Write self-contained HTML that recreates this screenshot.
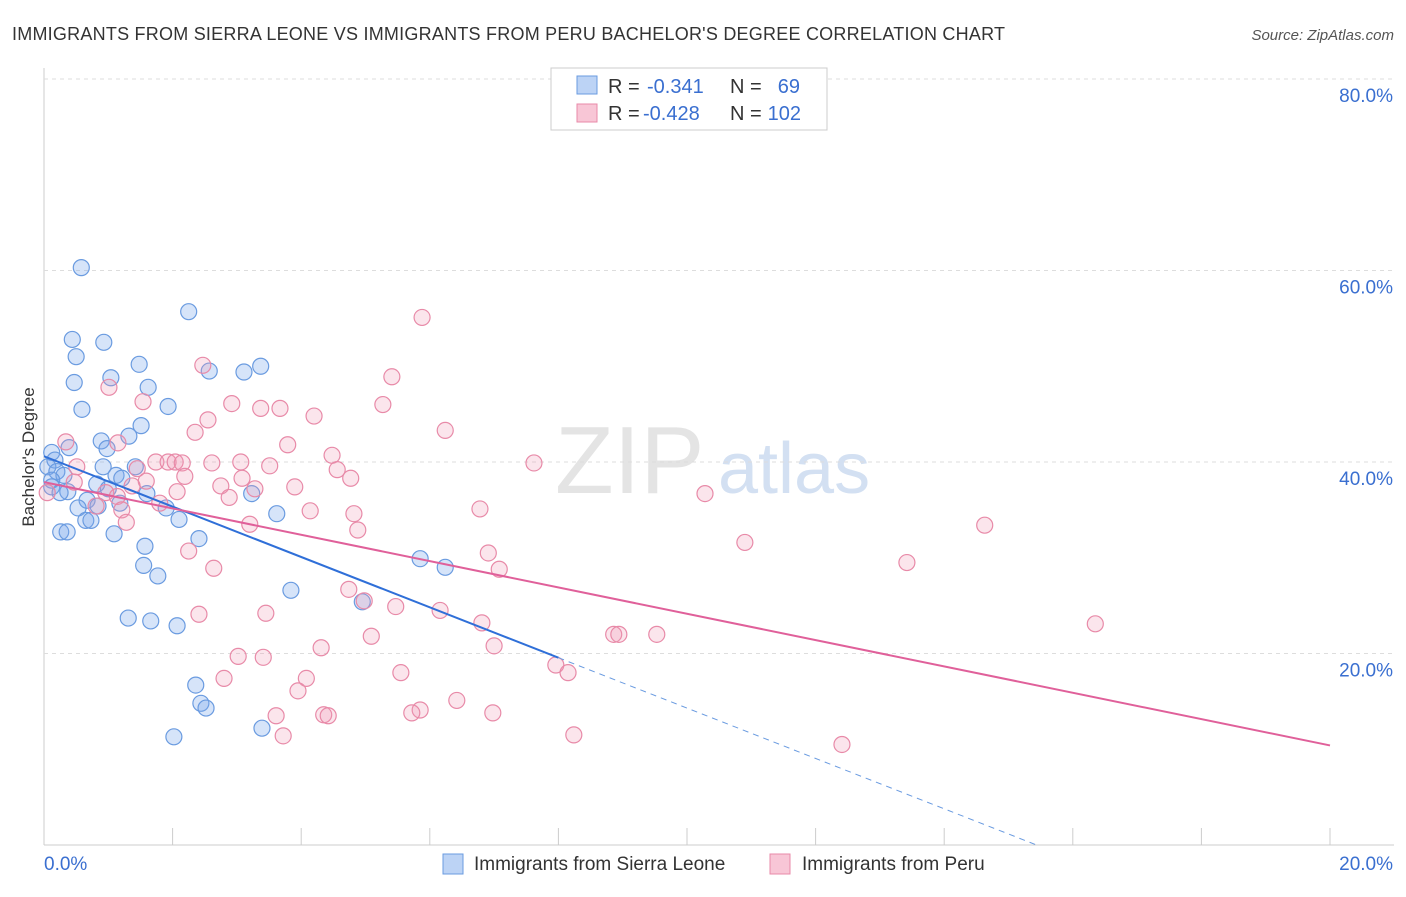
<!DOCTYPE html>
<html><head><meta charset="utf-8"><style>
body{margin:0;background:#fff;font-family:"Liberation Sans",sans-serif;}
svg text{font-family:"Liberation Sans",sans-serif;}
</style></head><body>
<svg id="c" width="1406" height="892">
<text x="12" y="40" font-size="18" fill="#333" textLength="993">IMMIGRANTS FROM SIERRA LEONE VS IMMIGRANTS FROM PERU BACHELOR'S DEGREE CORRELATION CHART</text>
<text x="1394" y="40" font-size="15" fill="#555" font-style="italic" text-anchor="end">Source: ZipAtlas.com</text>
<text x="34" y="457" font-size="17" fill="#333" text-anchor="middle" transform="rotate(-90 34 457)">Bachelor's Degree</text>
<text x="555" y="493" font-size="96" fill="#e4e4e4" font-family="Liberation Serif">ZIP</text>
<text x="718" y="493" font-size="72" fill="#d3e0f2">atlas</text>
<g id="grid"></g><g id="pts"></g><g id="lines"></g>
<g>
<rect x="551" y="68" width="276" height="62" fill="#fff" stroke="#ccc"/>
<rect x="577" y="76" width="20" height="18" fill="#bcd3f5" stroke="#6a9be0"/>
<rect x="577" y="104" width="20" height="18" fill="#f8c6d6" stroke="#e88aa8"/>
<text x="608" y="93" font-size="20" fill="#333">R =</text>
<text x="647" y="93" font-size="20" fill="#3a6fd0">-0.341</text>
<text x="730" y="93" font-size="20" fill="#333">N =</text>
<text x="800" y="93" font-size="20" fill="#3a6fd0" text-anchor="end">69</text>
<text x="608" y="120" font-size="20" fill="#333">R =</text>
<text x="643" y="120" font-size="20" fill="#3a6fd0">-0.428</text>
<text x="730" y="120" font-size="20" fill="#333">N =</text>
<text x="801" y="120" font-size="20" fill="#3a6fd0" text-anchor="end">102</text>
</g>
<g>
<rect x="443" y="854" width="20" height="20" fill="#bcd3f5" stroke="#6a9be0"/>
<text x="474" y="870" font-size="19" fill="#333">Immigrants from Sierra Leone</text>
<rect x="770" y="854" width="20" height="20" fill="#f8c6d6" stroke="#e88aa8"/>
<text x="802" y="870" font-size="19" fill="#333">Immigrants from Peru</text>
</g>
</svg>
<script>
const xTicks=[0,20];
const yTicks=[20,40,60,80];
const blueX=[0.58,2.25,0.44,0.93,0.50,1.48,3.37,2.57,3.11,1.04,0.47,1.62,0.59,1.93,1.51,1.32,0.89,0.39,0.98,0.12,0.17,0.06,0.92,1.42,0.20,0.31,1.12,1.21,0.12,0.82,0.12,1.00,0.37,0.25,1.60,3.23,0.67,1.18,0.84,0.53,1.90,3.62,0.65,0.73,2.10,0.26,0.36,1.09,2.41,1.57,5.85,6.24,1.55,1.77,3.84,4.95,1.31,1.66,2.07,2.36,2.44,2.52,3.39,2.02];
const blueY=[60.3,55.7,52.8,52.5,51.0,50.2,50.0,49.5,49.4,48.8,48.3,47.8,45.5,45.8,43.8,42.7,42.2,41.5,41.4,41.0,40.2,39.5,39.5,39.5,39.0,38.6,38.6,38.3,38.1,37.7,37.4,37.2,36.9,36.8,36.7,36.7,36.0,35.7,35.4,35.2,35.2,34.6,33.9,33.9,34.0,32.7,32.7,32.5,32.0,31.2,29.9,29.0,29.2,28.1,26.6,25.4,23.7,23.4,22.9,16.7,14.8,14.3,12.2,11.3];
const pinkX=[5.88,2.47,5.41,1.01,1.54,2.92,3.37,3.67,5.27,2.55,4.20,2.35,6.24,0.34,1.15,3.79,4.48,1.74,1.93,2.04,2.15,2.61,3.06,7.62,0.51,1.45,3.51,4.56,4.77,2.19,3.08,1.59,0.47,1.37,2.75,3.90,3.28,2.07,0.96,2.88,10.28,0.05,1.14,1.80,0.81,1.21,4.14,6.78,4.82,1.28,3.20,4.88,14.63,10.90,2.25,6.91,7.08,2.64,13.42,4.74,4.98,3.45,5.47,2.41,6.16,6.81,16.35,5.09,8.86,8.94,9.53,7.00,4.31,3.02,3.41,7.96,8.15,5.55,2.80,4.08,3.95,6.42,5.85,5.72,4.35,4.42,6.98,3.61,3.72,8.24,12.41];
const pinkY=[55.1,50.1,48.9,47.8,46.3,46.1,45.6,45.6,46.0,44.4,44.8,43.1,43.3,42.1,42.0,41.8,40.7,40.0,40.0,40.0,39.9,39.9,40.0,39.9,39.5,39.3,39.6,39.2,38.3,38.5,38.3,38.0,37.9,37.5,37.5,37.4,37.2,36.9,36.8,36.3,36.7,36.8,36.4,35.7,35.4,35.0,34.9,35.1,34.6,33.7,33.5,32.9,33.4,31.6,30.7,30.5,28.8,28.9,29.5,26.7,25.5,24.2,24.9,24.1,24.5,23.2,23.1,21.8,22.0,22.0,22.0,20.8,20.6,19.7,19.6,18.8,18.0,18.0,17.4,17.4,16.1,15.1,14.1,13.8,13.6,13.5,13.8,13.5,11.4,11.5,10.5];
const blueTrend=[40.6,-2.63]; // intercept, slope
const pinkTrend=[37.9,-1.375];
const NS="http://www.w3.org/2000/svg";
const X=v=>44+v/20*1286, Y=v=>845-v/20*191.5;
function mk(t,a,p){const e=document.createElementNS(NS,t);for(const k in a)e.setAttribute(k,a[k]);p.appendChild(e);return e;}
const grid=document.getElementById('grid');
mk('line',{x1:44,y1:68,x2:44,y2:845,stroke:'#ccc'},grid);
mk('line',{x1:44,y1:845,x2:1394,y2:845,stroke:'#ccc'},grid);
for(let i=0;i<=10;i++){const l=mk('line',{x1:X(i*2),y1:828,x2:X(i*2),y2:845,stroke:'#ccc'},grid);

}
yTicks.forEach(t=>{const l=mk('line',{x1:44,y1:Y(t),x2:1394,y2:Y(t),stroke:'#ddd','stroke-dasharray':'4,4'},grid);


const tx=mk('text',{x:1393,y:Y(t)+23,'font-size':19,fill:'#3a6fd0','text-anchor':'end'},grid);tx.textContent=t.toFixed(1)+'%';

});
xTicks.forEach((t,i)=>{const tx=mk('text',{x:i?1393:44,y:870,'font-size':19,fill:'#3a6fd0','text-anchor':i?'end':'start'},grid);tx.textContent=t.toFixed(1)+'%';

});
const pts=document.getElementById('pts');
blueX.forEach((x,i)=>{const c=mk('circle',{cx:X(x),cy:Y(blueY[i]),r:8,fill:'rgba(120,165,235,0.3)',stroke:'#6a9be0','stroke-width':1.2},pts);

});
pinkX.forEach((x,i)=>{const c=mk('circle',{cx:X(x),cy:Y(pinkY[i]),r:8,fill:'rgba(240,150,180,0.25)',stroke:'#e88aa8','stroke-width':1.2},pts);

});
const lines=document.getElementById('lines');
const f=(t,x)=>t[0]+t[1]*x;
let l=mk('line',{x1:X(0),y1:Y(f(blueTrend,0)),x2:X(8),y2:Y(f(blueTrend,8)),stroke:'#2f6fd8','stroke-width':2},lines);


const xz=-blueTrend[0]/blueTrend[1];
l=mk('line',{x1:X(8),y1:Y(f(blueTrend,8)),x2:X(xz),y2:Y(0),stroke:'#6a9be0','stroke-width':1,'stroke-dasharray':'6,5'},lines);


l=mk('line',{x1:X(0),y1:Y(f(pinkTrend,0)),x2:X(20),y2:Y(f(pinkTrend,20)),stroke:'#e0609a','stroke-width':2},lines);


</script>
</body></html>
